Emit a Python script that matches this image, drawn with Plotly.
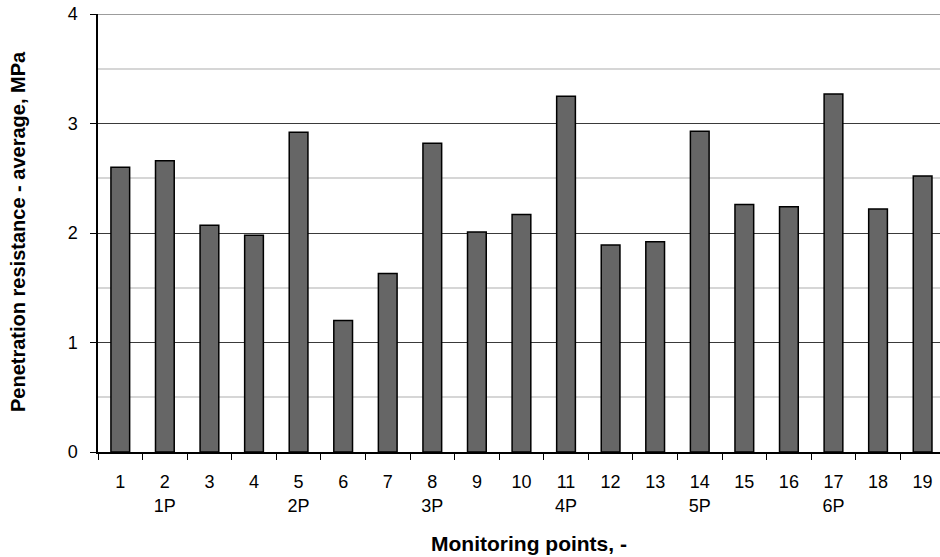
import plotly.graph_objects as go

points = [str(i) for i in range(1, 20)]
tick_labels = ["1", "2<br>1P", "3", "4", "5<br>2P", "6", "7", "8<br>3P", "9", "10",
               "11<br>4P", "12", "13", "14<br>5P", "15", "16", "17<br>6P", "18", "19"]
resistance = [2.60, 2.66, 2.07, 1.98, 2.92, 1.20, 1.63, 2.82, 2.01, 2.17,
              3.25, 1.89, 1.92, 2.93, 2.26, 2.24, 3.27, 2.22, 2.52]

W, H = 940, 557
L, R, T, B = 98, 0, 14, 105
plot_h = H - T - B
plot_w = W - L - R

fig = go.Figure()
fig.add_trace(go.Bar(
    x=points, y=resistance,
    marker=dict(color="#666666", line=dict(color="#000000", width=1.5)),
    width=0.42,
))

fig.update_layout(
    width=W, height=H,
    margin=dict(l=L, r=R, t=T, b=B),
    plot_bgcolor="white", paper_bgcolor="white",
    showlegend=False,
    font=dict(family="Liberation Sans, Arial, sans-serif", size=18, color="#000000"),
)
fig.update_xaxes(
    type="category", automargin=False,
    range=[-0.5, 18.39],
    tickvals=points, ticktext=tick_labels,
    tickson="boundaries", ticks="outside", ticklen=6, tickcolor="#000000",
    ticklabelstandoff=13,
    showline=True, linecolor="#000000", linewidth=1.5,
    showgrid=False,
    tickfont=dict(size=18),
)
fig.update_yaxes(
    range=[0, 4], dtick=1, automargin=False,
    ticks="outside", ticklen=6, tickcolor="#000000",
    ticklabelstandoff=9, ticklabeloverflow="allow",
    showline=True, linecolor="#000000", linewidth=1.5,
    showgrid=True, gridcolor="#3a3a3a", gridwidth=1,
    minor=dict(dtick=0.5, showgrid=True, gridcolor="#d6d6d6", gridwidth=1.5, ticks=""),
    zeroline=False,
    tickfont=dict(size=18),
)
# top gridline at y = 4 (edge of the range)
fig.add_shape(type="line", xref="paper", yref="y", x0=0, x1=1, y0=4, y1=4,
              line=dict(color="#3a3a3a", width=1))

fig.add_annotation(
    text="<b>Monitoring points, -</b>", xref="paper", yref="paper",
    x=(528.5 - L) / plot_w, y=(H - B - 543) / plot_h,
    showarrow=False, font=dict(size=21), xanchor="center", yanchor="middle",
)
fig.add_annotation(
    text="<b>Penetration resistance - average, MPa</b>", xref="paper", yref="paper",
    x=(18 - L) / plot_w, y=(H - B - 232) / plot_h, textangle=-90,
    showarrow=False, font=dict(size=20), xanchor="center", yanchor="middle",
)

# remove the default page margin so the figure fills the window exactly
fig.write_html("out.html", config={"displayModeBar": False},
               post_script="document.body.style.margin='0';")
